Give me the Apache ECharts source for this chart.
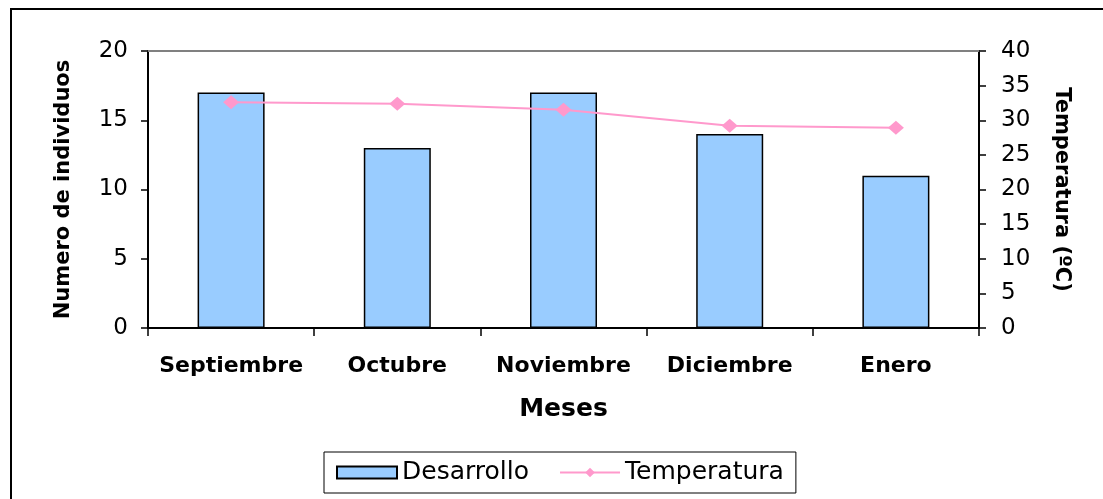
<!DOCTYPE html>
<html>
<head>
<meta charset="utf-8">
<script src="https://cdn.jsdelivr.net/npm/echarts@6/dist/echarts.min.js"></script>
<style>
  html, body { margin: 0; padding: 0; background: #fff; }
  #chart { width: 1103px; height: 499px; }
</style>
</head>
<body>
<div id="chart"></div>
<script>
// Monthly counts of individuals and mean temperature
const meses = ['Septiembre', 'Octubre', 'Noviembre', 'Diciembre', 'Enero'];
const desarrollo = [17, 13, 17, 14, 11];
const temperatura = [32.6, 32.4, 31.5, 29.2, 28.9];

const FONT = 'DejaVu Sans';
const chart = echarts.init(document.getElementById('chart'), null, { renderer: 'canvas' });

const axisLine = () => ({ show: true, onZero: false, lineStyle: { color: '#000', width: 2 } });
const axisTick = (len) => ({ show: true, length: len, lineStyle: { color: '#000', width: 1.5 } });

chart.setOption({
  animation: false,
  textStyle: { fontFamily: FONT, color: '#000' },
  graphic: [{
    type: 'rect',
    shape: { x: 11, y: 9, width: 1200, height: 600 },
    style: { fill: 'none', stroke: '#000', lineWidth: 2 },
    silent: true
  }],
  grid: { left: 148, right: 124, top: 51, bottom: 171 },
  legend: {
    left: 324, top: 452,
    padding: [8, 12, 8, 12],
    itemGap: 30,
    itemWidth: 60, itemHeight: 12,
    borderColor: '#000', borderWidth: 1,
    textStyle: { fontFamily: FONT, fontSize: 25, color: '#000' },
    data: [{ name: 'Desarrollo', icon: 'rect' }, { name: 'Temperatura' }]
  },
  xAxis: [{
    type: 'category', data: meses, position: 'bottom',
    name: 'Meses', nameLocation: 'middle', nameGap: 69,
    nameTextStyle: { fontFamily: FONT, fontSize: 25, fontWeight: 'bold', color: '#000' },
    axisLine: axisLine(),
    axisTick: axisTick(8),
    axisLabel: { margin: 27, fontFamily: FONT, fontSize: 22, fontWeight: 'bold', color: '#000', interval: 0 }
  }, {
    // grey frame line along the top of the plot area
    type: 'category', data: meses, position: 'top',
    axisLine: { show: true, onZero: false, lineStyle: { color: '#808080', width: 2 } },
    axisTick: { show: false }, axisLabel: { show: false }
  }],
  yAxis: [{
    type: 'value', position: 'left', min: 0, max: 20, interval: 5,
    name: 'Numero de individuos', nameLocation: 'middle', nameGap: 74,
    nameTextStyle: { fontFamily: FONT, fontSize: 21, fontWeight: 'bold', color: '#000' },
    axisLine: axisLine(),
    axisTick: axisTick(7),
    axisLabel: { margin: 20, fontFamily: FONT, fontSize: 23, color: '#000' },
    splitLine: { show: false }
  }, {
    type: 'value', position: 'right', min: 0, max: 40, interval: 5,
    name: 'Temperatura (ºC)', nameLocation: 'middle', nameGap: 72, nameRotate: -90,
    nameTextStyle: { fontFamily: FONT, fontSize: 21, fontWeight: 'bold', color: '#000' },
    axisLine: axisLine(),
    axisTick: axisTick(7),
    axisLabel: { margin: 22, fontFamily: FONT, fontSize: 23, color: '#000' },
    splitLine: { show: false }
  }],
  series: [{
    name: 'Desarrollo', type: 'bar', data: desarrollo,
    xAxisIndex: 0, yAxisIndex: 0,
    barWidth: 67,
    itemStyle: { color: '#99CCFF', borderColor: '#000', borderWidth: 1.5 }
  }, {
    name: 'Temperatura', type: 'line', data: temperatura,
    xAxisIndex: 0, yAxisIndex: 1,
    symbol: 'diamond', symbolSize: [16, 14],
    lineStyle: { color: '#FF99CC', width: 2 },
    itemStyle: { color: '#FF99CC' }
  }]
});
</script>
</body>
</html>
